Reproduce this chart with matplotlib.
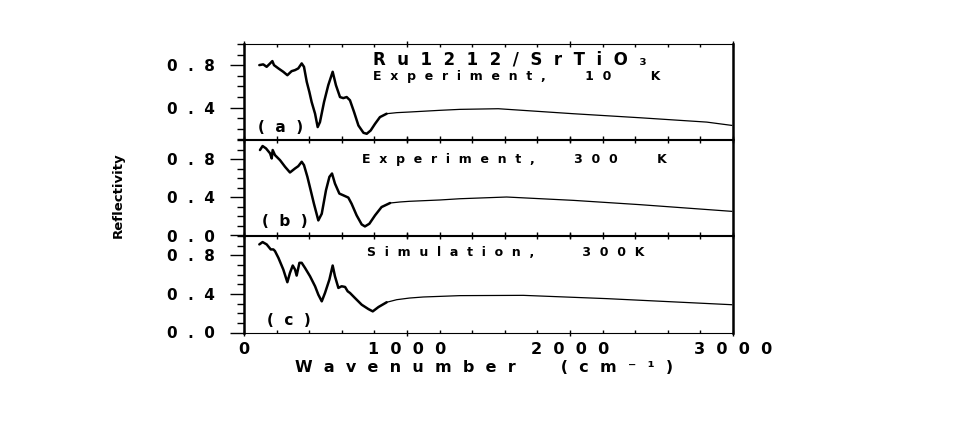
import matplotlib
matplotlib.use("Agg")
import matplotlib.pyplot as plt
from matplotlib.ticker import MultipleLocator, FixedLocator, FixedFormatter
import numpy as np

# ---------------- data ----------------
wn_a = [94, 118, 139, 160, 174, 184, 211, 241, 266, 292, 313, 333, 354, 368, 385, 401, 415,
        436, 452, 466, 491, 517, 544, 564, 589, 609, 630, 650, 675, 702, 733, 753, 777, 804,
        834, 875, 937, 1015, 1202, 1325, 1560, 2020, 2429, 2839, 2992]
R_a = [0.801, 0.808, 0.785, 0.817, 0.839, 0.801, 0.77, 0.738, 0.706, 0.744, 0.754, 0.77,
       0.817, 0.785, 0.643, 0.548, 0.453, 0.343, 0.217, 0.264, 0.453, 0.612, 0.738, 0.612,
       0.50, 0.49, 0.50, 0.47, 0.36, 0.232, 0.163, 0.154, 0.185, 0.248, 0.311, 0.343, 0.353,
       0.359, 0.375, 0.384, 0.39, 0.343, 0.305, 0.264, 0.233]

wn_b = [98, 114, 135, 160, 170, 176, 190, 221, 252, 282, 313, 333, 354, 368, 389, 409, 429,
        456, 477, 503, 524, 540, 558, 585, 609, 640, 660, 691, 722, 742, 769, 804, 844, 896,
        957, 1015, 1202, 1325, 1611, 2020, 2429, 2992]
R_b = [0.895, 0.937, 0.912, 0.86, 0.807, 0.895, 0.842, 0.789, 0.719, 0.66, 0.702, 0.726,
       0.772, 0.737, 0.614, 0.474, 0.333, 0.158, 0.228, 0.474, 0.614, 0.649, 0.544, 0.439,
       0.421, 0.397, 0.333, 0.211, 0.116, 0.095, 0.123, 0.211, 0.298, 0.34, 0.351, 0.358,
       0.372, 0.385, 0.403, 0.368, 0.323, 0.253]

wn_c = [94, 114, 139, 164, 180, 190, 211, 241, 266, 282, 299, 313, 323, 340, 354, 374, 405,
        436, 456, 477, 497, 524, 544, 558, 579, 599, 620, 636, 650, 681, 722, 763, 790, 825,
        875, 937, 1015, 1100, 1325, 1713, 2225, 2992]
R_c = [0.913, 0.937, 0.913, 0.861, 0.861, 0.844, 0.774, 0.653, 0.521, 0.618, 0.694, 0.653,
       0.59, 0.722, 0.722, 0.67, 0.583, 0.479, 0.392, 0.323, 0.41, 0.549, 0.694, 0.583,
       0.462, 0.479, 0.472, 0.427, 0.41, 0.357, 0.288, 0.243, 0.219, 0.264, 0.313, 0.34,
       0.357, 0.368, 0.382, 0.385, 0.351, 0.288]

panel_titles = ["Experiment, 10 K", "Experiment, 300 K", "Simulation, 300K"]
panel_tags = ["(a)", "(b)", "(c)"]
sample_label = "Ru1212/SrTiO\u2083"
x_ticks = [0, 1000, 2000, 3000]
x_tick_labels = ["0", "1000", "2000", "3000"]
y_ticks = [0.0, 0.4, 0.8]
y_tick_labels = ["0.0", "0.4", "0.8"]
x_label = "Wavenumber (cm\u207b\u00b9)"
y_label = "Reflectivity"

# ---------------- layout helpers ----------------
W, H = 977, 436
fig = plt.figure(figsize=(W / 100, H / 100), dpi=100)


def rect(x0, x1, y0, y1):
    return [x0 / W, 1 - y1 / H, (x1 - x0) / W, (y1 - y0) / H]


def sp(s, n=2, wg=None):
    if wg is None:
        wg = 2 * n + 2
    words = s.split(" ")
    return (" " * wg).join((" " * n).join(w) for w in words)


def ftext(x, y, s, **kw):
    fig.text(x / W, 1 - y / H, s, **kw)


BOLD = dict(family="DejaVu Sans", fontweight="bold")

rects = [rect(244, 733, 44, 139.5), rect(244, 733, 140, 235.5), rect(244, 733, 236, 332.5)]
ylims = [(0.1, 1.0), (0.0, 1.0), (0.0, 1.0)]
data = [(wn_a, R_a, 860), (wn_b, R_b, 860), (wn_c, R_c, 830)]

for i, (r, yl, (w, R, split)) in enumerate(zip(rects, ylims, data)):
    ax = fig.add_axes(r)
    w = np.asarray(w)
    R = np.asarray(R)
    k = int((w <= split).sum())
    ax.plot(w[:k + 1], R[:k + 1], color="black", lw=1.8, solid_joinstyle="round",
            solid_capstyle="round")
    ax.plot(w[k:], R[k:], color="black", lw=0.9)
    ax.set_xlim(0, 3000)
    ax.set_ylim(*yl)
    ax.xaxis.set_major_locator(FixedLocator(x_ticks))
    ax.xaxis.set_minor_locator(MultipleLocator(200))
    yt = [t for t in y_ticks if yl[0] <= t <= yl[1]]
    ax.yaxis.set_major_locator(FixedLocator(yt))
    ax.yaxis.set_major_formatter(FixedFormatter([sp(y_tick_labels[y_ticks.index(t)], 2) for t in yt]))
    ax.yaxis.set_minor_locator(MultipleLocator(0.1))
    ax.tick_params(axis="y", which="major", direction="out", length=10, width=1,
                   labelsize=11, pad=11, right=False)
    ax.tick_params(axis="y", which="minor", direction="out", length=5, width=1, right=False)
    ax.tick_params(axis="x", which="major", direction="inout", length=5, width=1, top=True)
    ax.tick_params(axis="x", which="minor", direction="in", length=2.5, width=1, top=True)
    for lab in ax.get_yticklabels():
        lab.set_fontweight("bold")
    if i < 2:
        ax.tick_params(axis="x", labelbottom=False)
    else:
        ax.xaxis.set_major_formatter(FixedFormatter([sp(t, 2) for t in x_tick_labels]))
        ax.tick_params(axis="x", which="major", labelsize=11.5, pad=4)
        for lab in ax.get_xticklabels():
            lab.set_fontweight("bold")
    ax.spines["left"].set_linewidth(1.8)
    ax.spines["right"].set_linewidth(1.8)
    ax.spines["top"].set_linewidth(0.8)
    ax.spines["bottom"].set_linewidth(0.8)
    ax.patch.set_alpha(0)

# texts
ftext(373, 59, sp(sample_label, 2), ha="left", va="center", fontsize=12, **BOLD)
ftext(373, 76, sp(panel_titles[0], 2, 9), ha="left", va="center", fontsize=9, **BOLD)
ftext(362, 159, sp(panel_titles[1], 2, 9), ha="left", va="center", fontsize=9, **BOLD)
ftext(367, 252, sp(panel_titles[2], 2, 11), ha="left", va="center", fontsize=9, **BOLD)
ftext(281, 127, sp(panel_tags[0], 2), ha="center", va="center", fontsize=11, **BOLD)
ftext(285, 222, sp(panel_tags[1], 2), ha="center", va="center", fontsize=11, **BOLD)
ftext(289, 320, sp(panel_tags[2], 2), ha="center", va="center", fontsize=11, **BOLD)
ftext(484, 367, sp(x_label, 2, 8), ha="center", va="center", fontsize=11.5, **BOLD)
ftext(118, 195, y_label, ha="center", va="center", rotation=90, fontsize=9.5,
      family="DejaVu Sans", fontweight="bold")

fig.savefig("out.png", dpi=100)
